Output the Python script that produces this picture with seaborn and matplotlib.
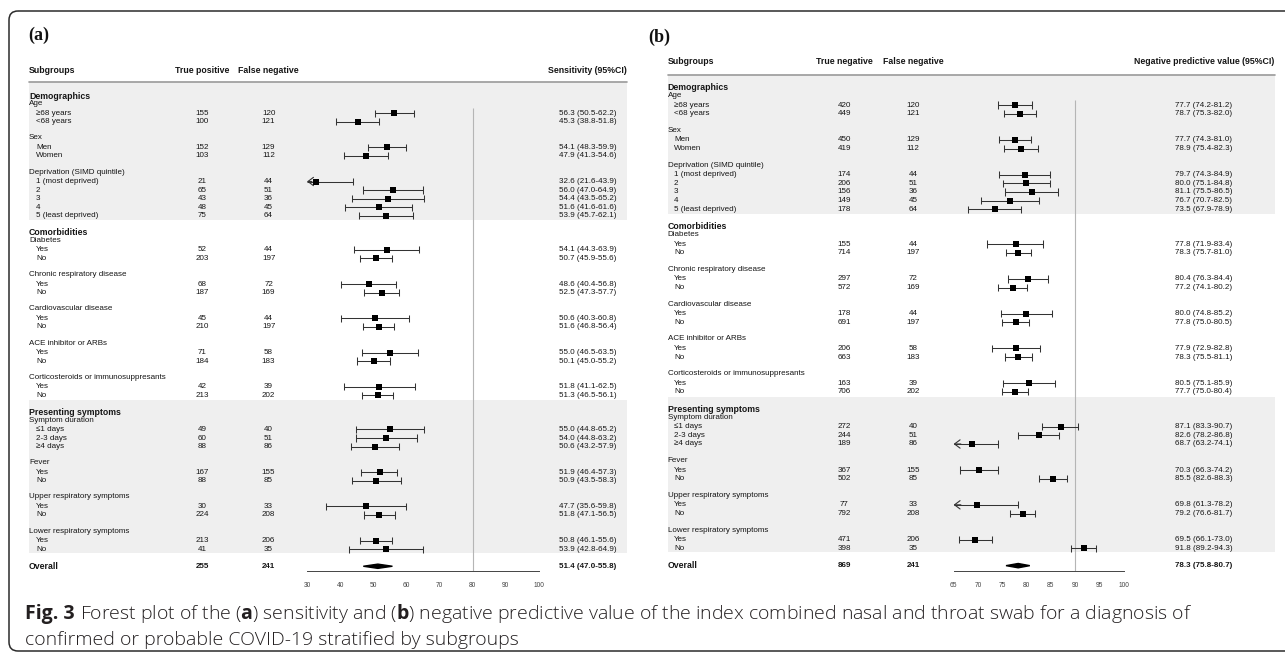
import numpy as np
import pandas as pd
import matplotlib
matplotlib.use("Agg")
import matplotlib.pyplot as plt
import seaborn as sns
from matplotlib.transforms import blended_transform_factory
from matplotlib.patches import Rectangle, FancyBboxPatch


# ==========================
# DATA
# ==========================

row_labels = [
    "Demographics", "Age", "≥68 years", "<68 years", "",
    "Sex", "Men", "Women", "",
    "Deprivation (SIMD quintile)", "1 (most deprived)", "2", "3", "4", "5 (least deprived)", "",
    "Comorbidities", "Diabetes", "Yes", "No", "",
    "Chronic respiratory disease", "Yes", "No", "",
    "Cardiovascular disease", "Yes", "No", "",
    "ACE inhibitor or ARBs", "Yes", "No", "",
    "Corticosteroids or immunosuppresants", "Yes", "No", "",
    "Presenting symptoms", "Symptom duration", "≤1 days", "2-3 days", "≥4 days", "",
    "Fever", "Yes", "No", "",
    "Upper respiratory symptoms", "Yes", "No", "",
    "Lower respiratory symptoms", "Yes", "No", "",
    "Overall",
]
# S = section, G = group, I = item, - = blank, O = overall
row_kinds = "SGII-GII-GIIIII-SGII-GII-GII-GII-GII-SGIII-GII-GII-GII-O"

false_negative = [120, 121, 129, 112, 44, 51, 36, 45, 64, 44, 197, 72, 169, 44,
                  197, 58, 183, 39, 202, 40, 51, 86, 155, 85, 33, 208, 206, 35]

# (a) sensitivity
true_positive = [155, 100, 152, 103, 21, 65, 43, 48, 75, 52, 203, 68, 187, 45,
                 210, 71, 184, 42, 213, 49, 60, 88, 167, 88, 30, 224, 213, 41]
sens = [56.3, 45.3, 54.1, 47.9, 32.6, 56.0, 54.4, 51.6, 53.9, 54.1, 50.7, 48.6, 52.5, 50.6,
        51.6, 55.0, 50.1, 51.8, 51.3, 55.0, 54.0, 50.6, 51.9, 50.9, 47.7, 51.8, 50.8, 53.9]
sens_lo = [50.5, 38.8, 48.3, 41.3, 21.6, 47.0, 43.5, 41.6, 45.7, 44.3, 45.9, 40.4, 47.3, 40.3,
           46.8, 46.5, 45.0, 41.1, 46.5, 44.8, 44.8, 43.2, 46.4, 43.5, 35.6, 47.1, 46.1, 42.8]
sens_hi = [62.2, 51.8, 59.9, 54.6, 43.9, 64.9, 65.2, 61.6, 62.1, 63.9, 55.6, 56.8, 57.7, 60.8,
           56.4, 63.5, 55.2, 62.5, 56.1, 65.2, 63.2, 57.9, 57.3, 58.3, 59.8, 56.5, 55.6, 64.9]
sens_overall = [255, 241, 51.4, 47.0, 55.8]

# (b) negative predictive value
true_negative = [420, 449, 450, 419, 174, 206, 156, 149, 178, 155, 714, 297, 572, 178,
                 691, 206, 663, 163, 706, 272, 244, 189, 367, 502, 77, 792, 471, 398]
npv = [77.7, 78.7, 77.7, 78.9, 79.7, 80.0, 81.1, 76.7, 73.5, 77.8, 78.3, 80.4, 77.2, 80.0,
       77.8, 77.9, 78.3, 80.5, 77.7, 87.1, 82.6, 68.7, 70.3, 85.5, 69.8, 79.2, 69.5, 91.8]
npv_lo = [74.2, 75.3, 74.3, 75.4, 74.3, 75.1, 75.5, 70.7, 67.9, 71.9, 75.7, 76.3, 74.1, 74.8,
          75.0, 72.9, 75.5, 75.1, 75.0, 83.3, 78.2, 63.2, 66.3, 82.6, 61.3, 76.6, 66.1, 89.2]
npv_hi = [81.2, 82.0, 81.0, 82.3, 84.9, 84.8, 86.5, 82.5, 78.9, 83.4, 81.0, 84.4, 80.2, 85.2,
          80.5, 82.8, 81.1, 85.9, 80.4, 90.7, 86.8, 74.1, 74.2, 88.3, 78.2, 81.7, 73.0, 94.3]
npv_overall = [869, 241, 78.3, 75.8, 80.7]


# ==========================
# STYLE
# ==========================

W, H = 1285, 655

sns.set_style("white")
plt.rcParams["font.family"] = ["Liberation Sans", "DejaVu Sans"]
plt.rcParams["mathtext.fontset"] = "custom"
plt.rcParams["mathtext.rm"] = "Open Sans"
plt.rcParams["mathtext.bf"] = "Open Sans:bold"

TXT = "#151515"
BAND = "#efefef"
LINE = "#333333"
FS = 5.8
FS_HEAD = 6.3

fig = plt.figure(figsize=(W / 100, H / 100), dpi=100)

bg = fig.add_axes([0, 0, 1, 1], zorder=-1)
bg.set_xlim(0, W)
bg.set_ylim(H, 0)
bg.axis("off")

bg.add_patch(FancyBboxPatch((9, 11), 1300, 640,
                            boxstyle="round,pad=0,rounding_size=9",
                            fill=False, ec="#2b2b2b", lw=1.1))


# ==========================
# FOREST PANEL
# ==========================

panel_a = dict(tag="(a)", tag_x=28.6, tag_y=35,
               col1="True positive", col2="False negative", col3="Sensitivity (95%CI)",
               x0=307, x1=538.8, xlim=(30, 100), ticks=list(range(30, 101, 10)), ref=80,
               row0=96, dy=8.55, header_y=70, line_y=81.7,
               left=29, indent=36, c1=202, c2=268.6, c3=587.5, right=626.5)

panel_b = dict(tag="(b)", tag_x=648, tag_y=37,
               col1="True negative", col2="False negative",
               col3="Negative predictive value (95%CI)",
               x0=953.6, x1=1123.5, xlim=(65, 100), ticks=list(range(65, 101, 5)), ref=90,
               row0=87.7, dy=8.69, header_y=62, line_y=75,
               left=667.6, indent=674, c1=844.5, c2=913, c3=1203.8, right=1274.6)


def draw_panel(p, n1, n2, est, lo, hi, overall):

    top, bottom = 40, 570.5

    ax = fig.add_axes([p["x0"] / W, 1 - bottom / H,
                       (p["x1"] - p["x0"]) / W, (bottom - top) / H])
    ax.patch.set_visible(False)

    r_bot = (bottom - p["row0"]) / p["dy"]
    r_top = (top - p["row0"]) / p["dy"]

    tr = blended_transform_factory(bg.transData, ax.transData)

    item_rows = [i for i, k in enumerate(row_kinds) if k == "I"]
    overall_row = row_kinds.index("O")

    df = pd.DataFrame({"row": item_rows, "est": est, "lo": lo, "hi": hi,
                       "n1": n1, "n2": n2})

    xmin = p["xlim"][0]

    # shaded bands + header rule
    line_row = (p["line_y"] - p["row0"]) / p["dy"]
    for r0, r1 in [(line_row, 14.5), (35.6, 53.4)]:
        ax.add_patch(Rectangle((p["left"], r0), p["right"] - p["left"], r1 - r0,
                               transform=tr, facecolor=BAND, edgecolor="none",
                               zorder=0, clip_on=False))
    ax.plot([p["left"], p["right"]], [line_row, line_row], transform=tr,
            color="#9a9a9a", lw=1.2, clip_on=False, zorder=1)

    # reference line
    ax.vlines(p["ref"], 1.4, r_bot, color="#b5b5b5", lw=0.8, zorder=1)

    # confidence intervals
    lo_draw = np.maximum(df["lo"], xmin)
    ax.hlines(df["row"], lo_draw, df["hi"], color=LINE, lw=0.75, zorder=2)
    ax.vlines(df["hi"], df["row"] - 0.42, df["row"] + 0.42, color=LINE, lw=0.75, zorder=2)
    inside = df[df["lo"] >= xmin]
    ax.vlines(inside["lo"], inside["row"] - 0.42, inside["row"] + 0.42,
              color=LINE, lw=0.75, zorder=2)
    for _, r in df[df["lo"] < xmin].iterrows():
        ax.annotate("", xy=(xmin, r["row"]), xytext=(xmin + 1.5, r["row"]),
                    arrowprops=dict(arrowstyle="->,head_length=0.8,head_width=0.6",
                                    mutation_scale=5, lw=0.8, color=LINE,
                                    shrinkA=0, shrinkB=0),
                    annotation_clip=False)

    sns.scatterplot(data=df, x="est", y="row", marker="s", color="black", s=14,
                    linewidth=0, ax=ax, legend=False, zorder=3)

    # overall diamond
    on1, on2, oest, olo, ohi = overall
    ax.fill([olo, oest, ohi, oest],
            [overall_row, overall_row - 0.25, overall_row, overall_row + 0.25],
            color="black", zorder=3)

    # axes
    ax.set_xlim(*p["xlim"])
    ax.set_ylim(r_bot, r_top)
    ax.set_xlabel("")
    ax.set_ylabel("")
    ax.set_yticks([])
    ax.set_xticks(p["ticks"])
    for s in ["top", "right", "left"]:
        ax.spines[s].set_visible(False)
    ax.spines["bottom"].set_color("#444444")
    ax.spines["bottom"].set_linewidth(0.7)
    ax.tick_params(axis="x", length=3.5, width=0.6, labelsize=4.8, pad=4.5,
                   colors="#444444", direction="out")

    # header
    hr = (p["header_y"] - p["row0"]) / p["dy"]
    ax.text(p["left"], hr, "Subgroups", transform=tr, ha="left", va="center",
            fontsize=FS_HEAD, fontweight="bold", color=TXT)
    ax.text(p["c1"], hr, p["col1"], transform=tr, ha="center", va="center",
            fontsize=FS_HEAD, fontweight="bold", color=TXT)
    ax.text(p["c2"], hr, p["col2"], transform=tr, ha="center", va="center",
            fontsize=FS_HEAD, fontweight="bold", color=TXT)
    ax.text(p["right"], hr, p["col3"], transform=tr, ha="right", va="center",
            fontsize=FS_HEAD, fontweight="bold", color=TXT)

    # row labels
    for i, (lab, k) in enumerate(zip(row_labels, row_kinds)):
        if k == "S":
            ax.text(p["left"], i, lab, transform=tr, ha="left", va="center",
                    fontsize=FS_HEAD, fontweight="bold", color=TXT)
        elif k == "G":
            ax.text(p["left"], i - 0.1, lab, transform=tr, ha="left", va="center",
                    fontsize=FS, color=TXT)
        elif k == "I":
            ax.text(p["indent"], i, lab, transform=tr, ha="left", va="center",
                    fontsize=FS, color=TXT)
        elif k == "O":
            ax.text(p["left"], i, lab, transform=tr, ha="left", va="center",
                    fontsize=FS_HEAD, fontweight="bold", color=TXT)

    # numbers
    for _, r in df.iterrows():
        ax.text(p["c1"], r["row"], f"{int(r['n1'])}", transform=tr, ha="center",
                va="center", fontsize=FS, color=TXT)
        ax.text(p["c2"], r["row"], f"{int(r['n2'])}", transform=tr, ha="center",
                va="center", fontsize=FS, color=TXT)
        ax.text(p["c3"], r["row"], f"{r['est']:.1f} ({r['lo']:.1f}-{r['hi']:.1f})",
                transform=tr, ha="center", va="center", fontsize=FS, color=TXT)

    ax.text(p["c1"], overall_row, f"{on1}", transform=tr, ha="center", va="center",
            fontsize=FS, fontweight="bold", color=TXT)
    ax.text(p["c2"], overall_row, f"{on2}", transform=tr, ha="center", va="center",
            fontsize=FS, fontweight="bold", color=TXT)
    ax.text(p["c3"], overall_row, f"{oest:.1f} ({olo:.1f}-{ohi:.1f})", transform=tr,
            ha="center", va="center", fontsize=FS, fontweight="bold", color=TXT)

    # panel tag
    bg.text(p["tag_x"], p["tag_y"], p["tag"], ha="left", va="center", fontsize=13,
            fontweight="bold", family=["Liberation Serif", "DejaVu Serif"], color="#111111")

    return ax


draw_panel(panel_a, true_positive, false_negative, sens, sens_lo, sens_hi, sens_overall)
draw_panel(panel_b, true_negative, false_negative, npv, npv_lo, npv_hi, npv_overall)


# ==========================
# CAPTION
# ==========================

CAP_FS = 14.0
cap_font = ["Open Sans", "DejaVu Sans"]

fig_label = bg.text(25, 619, "Fig. 3", ha="left", va="baseline", fontsize=CAP_FS,
                    fontweight="bold", family=cap_font, color="#231f20")
renderer = fig.canvas.get_renderer()
label_w = fig_label.get_window_extent(renderer=renderer).width
x_next = 25 + label_w + 0.26 * CAP_FS * 100 / 72

cap1 = (r"Forest plot of the ($\mathbf{a}$) sensitivity and "
        r"($\mathbf{b}$) negative predictive value of the index combined nasal and "
        r"throat swab for a diagnosis of")
cap2 = "confirmed or probable COVID-19 stratified by subgroups"

bg.text(x_next, 619, cap1, ha="left", va="baseline", fontsize=CAP_FS, fontweight="light",
        family=cap_font, color="#231f20")
bg.text(25, 645, cap2, ha="left", va="baseline", fontsize=CAP_FS, fontweight="light",
        family=cap_font, color="#231f20")

plt.savefig("out.png", dpi=100)
plt.close()
